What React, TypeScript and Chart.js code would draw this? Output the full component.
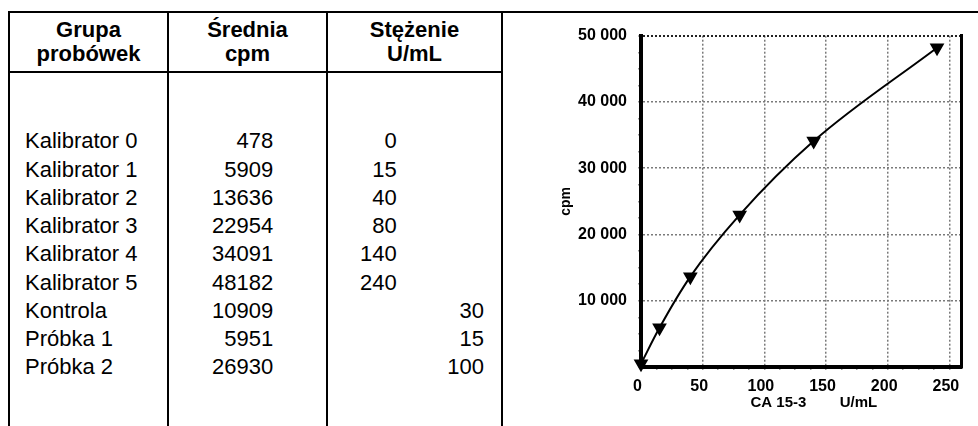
import React, { useEffect, useRef } from 'react';
import { Chart, registerables } from 'chart.js';

Chart.register(...registerables);

const FONT = '"Liberation Sans", Arial, Helvetica, sans-serif';

// ---- data ----
const headerGroup = ['Grupa', 'probówek'];
const headerMean = ['Średnia', 'cpm'];
const headerConc = ['Stężenie', 'U/mL'];
const groups = [
  'Kalibrator 0', 'Kalibrator 1', 'Kalibrator 2', 'Kalibrator 3', 'Kalibrator 4',
  'Kalibrator 5', 'Kontrola', 'Próbka 1', 'Próbka 2',
];
const meanCpm = [478, 5909, 13636, 22954, 34091, 48182, 10909, 5951, 26930];
const calibratorConc = [0, 15, 40, 80, 140, 240];
const sampleConc = [30, 15, 100];
const xTickLabels = [0, 50, 100, 150, 200, 250];
const yTickLabels = [10000, 20000, 30000, 40000, 50000];
const xTitle = '      CA 15-3        U/mL';
const yTitle = 'cpm';

function fmt(v: number): string {
  return String(v).replace(/\B(?=(\d{3})+(?!\d))/g, ' ');
}

const lineStyle = (s: React.CSSProperties): React.CSSProperties => ({
  position: 'absolute', background: '#000', ...s,
});

export default function App() {
  const ref = useRef<HTMLCanvasElement>(null);

  useEffect(() => {
    if (!ref.current) return;
    const points = calibratorConc.map((x, i) => ({ x, y: meanCpm[i] }));
    const chart = new Chart(ref.current, {
      type: 'scatter',
      data: {
        datasets: [
          {
            data: points,
            showLine: true,
            borderColor: '#000',
            borderWidth: 2,
            backgroundColor: '#000',
            pointBackgroundColor: '#000',
            pointBorderColor: '#000',
            pointStyle: 'triangle',
            rotation: 180,
            pointRadius: 6.5,
            pointHoverRadius: 6.5,
            cubicInterpolationMode: 'monotone',
            clip: false as any,
          } as any,
        ],
      },
      options: {
        animation: false,
        responsive: false,
        maintainAspectRatio: false,
        events: [],
        layout: { padding: { left: 0, right: 16.3, top: 21.7, bottom: 0 } },
        plugins: { legend: { display: false }, tooltip: { enabled: false } },
        scales: {
          x: {
            type: 'linear',
            position: 'bottom',
            min: 0,
            max: 260,
            afterFit: (s: any) => { s.height = 59; },
            ticks: {
              stepSize: 12.5,
              autoSkip: false,
              includeBounds: false,
              maxRotation: 0,
              padding: 7,
              labelOffset: -3.5,
              color: '#000',
              font: { family: FONT, size: 16, weight: 'bold' },
              callback: (v: any) => (xTickLabels.includes(Number(v)) ? String(v) : ''),
            },
            grid: {
              color: (ctx: any) =>
                ctx.tick && ctx.tick.value !== 0 && xTickLabels.includes(ctx.tick.value)
                  ? '#7a7a7a' : 'rgba(0,0,0,0)',
              lineWidth: 1.5,
              tickLength: 3,
              tickColor: '#9a9a9a',
              tickWidth: 1.5,
            } as any,
            border: { display: true, color: '#000', width: 4, dash: [2, 2] },
            title: {
              display: true,
              text: xTitle,
              color: '#000',
              font: { family: FONT, size: 15, weight: 'bold' },
              padding: { top: 0, bottom: 14 },
            },
          } as any,
          y: {
            type: 'linear',
            position: 'left',
            min: 0,
            max: 50000,
            afterFit: (s: any) => { s.width = 137; },
            ticks: {
              stepSize: 2500,
              autoSkip: false,
              includeBounds: false,
              padding: 11,
              color: '#000',
              font: { family: FONT, size: 16, weight: 'bold' },
              callback: (v: any) => (yTickLabels.includes(Number(v)) ? fmt(Number(v)) : ''),
            },
            grid: {
              color: (ctx: any) => {
                const v = ctx.tick ? ctx.tick.value : -1;
                if (v === 50000) return '#222';
                return v !== 0 && yTickLabels.includes(v) ? '#7a7a7a' : 'rgba(0,0,0,0)';
              },
              lineWidth: (ctx: any) => (ctx.tick && ctx.tick.value === 50000 ? 2 : 1.5),
              tickLength: 3,
              tickColor: '#9a9a9a',
              tickWidth: 1.5,
            } as any,
            border: { display: true, color: '#000', width: 4, dash: [2, 2] },
            title: {
              display: true,
              text: yTitle,
              color: '#000',
              font: { family: FONT, size: 14, weight: 'bold' },
              padding: { top: 53.6, bottom: 0 },
            },
          } as any,
          y2: {
            type: 'linear',
            position: 'right',
            min: 0,
            max: 50000,
            afterFit: (s: any) => { s.width = 0; },
            ticks: { display: false },
            grid: { display: false },
            border: { display: true, color: '#000', width: 3 },
          } as any,
        },
      },
    });
    return () => chart.destroy();
  }, []);

  const textBase: React.CSSProperties = {
    position: 'absolute', fontFamily: FONT, fontSize: 22, color: '#000', whiteSpace: 'nowrap',
  };
  const headerCols = [
    { left: 10, width: 157, lines: headerGroup },
    { left: 169, width: 157, lines: headerMean },
    { left: 328, width: 173, lines: headerConc },
  ];
  const rowTop = 127.25;
  const rowH = 28.25;

  return (
    <div style={{ position: 'absolute', left: 0, top: 0, width: 978, height: 426, overflow: 'hidden', background: '#fff' }}>
      {/* table lines */}
      <div style={lineStyle({ left: 8, top: 11.3, width: 970, height: 2 })} />
      <div style={lineStyle({ left: 8, top: 11.3, width: 2, height: 415 })} />
      <div style={lineStyle({ left: 167, top: 11.3, width: 2, height: 415 })} />
      <div style={lineStyle({ left: 326, top: 11.3, width: 2, height: 415 })} />
      <div style={lineStyle({ left: 501, top: 11.3, width: 2, height: 415 })} />
      <div style={lineStyle({ left: 8, top: 70.7, width: 495, height: 2 })} />

      {/* headers */}
      {headerCols.map((c, i) => (
        <div key={'h' + i} style={{ ...textBase, left: c.left, width: c.width, top: 17.5, textAlign: 'center', fontWeight: 'bold', lineHeight: '24.4px' }}>
          {c.lines.map((l, j) => (<div key={j}>{l}</div>))}
        </div>
      ))}

      {/* rows */}
      {groups.map((g, i) => {
        const top = rowTop + i * rowH;
        const base: React.CSSProperties = { ...textBase, top, height: rowH, lineHeight: rowH + 'px' };
        const isCal = i < calibratorConc.length;
        return (
          <React.Fragment key={'r' + i}>
            <div style={{ ...base, left: 25 }}>{g}</div>
            <div style={{ ...base, left: 173.3, width: 100, textAlign: 'right' }}>{meanCpm[i]}</div>
            {isCal ? (
              <div style={{ ...base, left: 296.7, width: 100, textAlign: 'right' }}>{calibratorConc[i]}</div>
            ) : (
              <div style={{ ...base, left: 384, width: 100, textAlign: 'right' }}>{sampleConc[i - calibratorConc.length]}</div>
            )}
          </React.Fragment>
        );
      })}

      {/* chart */}
      <div style={{ position: 'absolute', left: 504, top: 14, width: 474, height: 412 }}>
        <canvas ref={ref} width={474} height={412} style={{ display: 'block', width: 474, height: 412 }} />
      </div>
    </div>
  );
}
